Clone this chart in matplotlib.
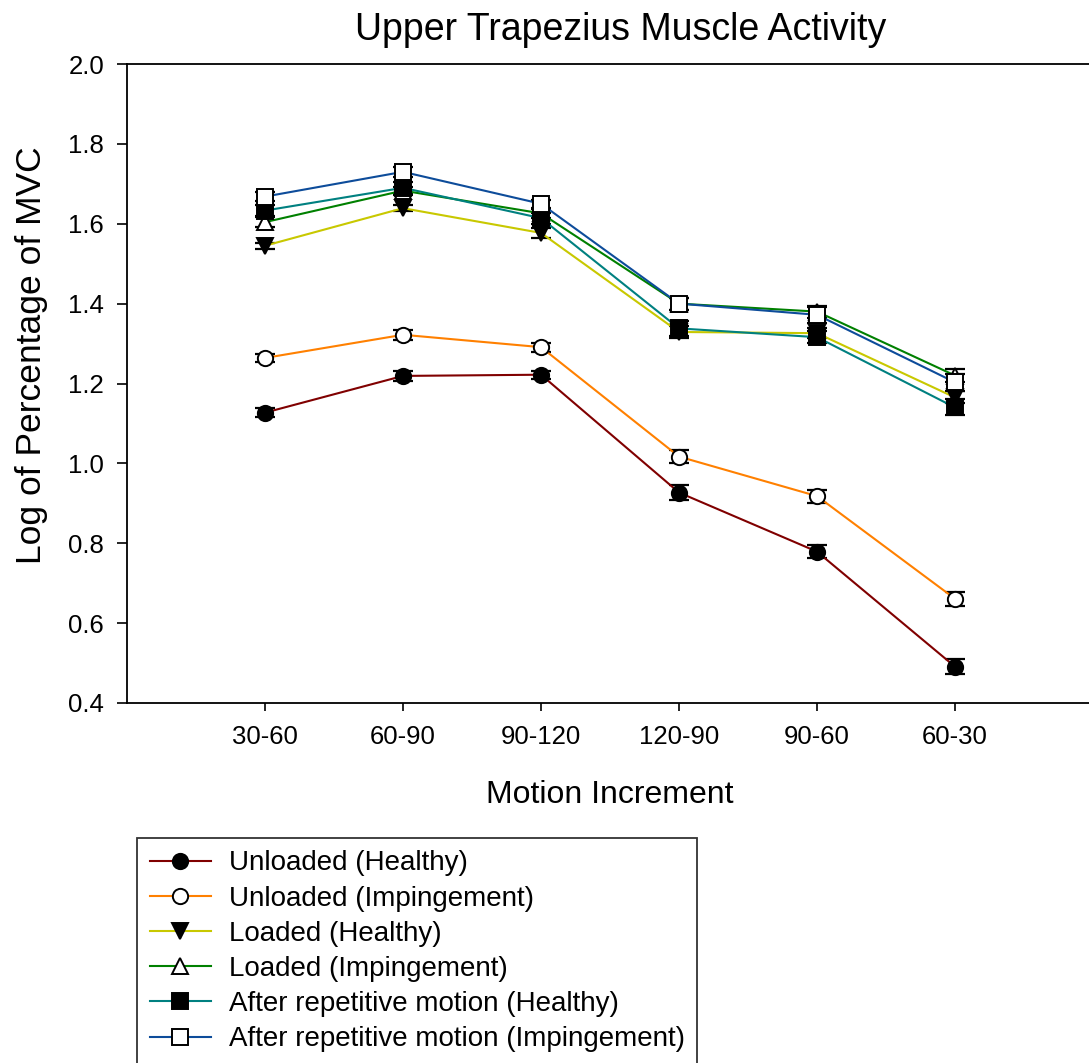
import matplotlib
matplotlib.use("Agg")
import matplotlib.pyplot as plt

plt.rcParams["font.family"] = ["Liberation Sans", "DejaVu Sans"]

increments = ["30-60", "60-90", "90-120", "120-90", "90-60", "60-30"]

unloaded_healthy = [1.127, 1.219, 1.222, 0.927, 0.779, 0.491]
unloaded_healthy_err = [0.012, 0.013, 0.010, 0.018, 0.016, 0.018]
unloaded_imping = [1.264, 1.322, 1.291, 1.017, 0.918, 0.661]
unloaded_imping_err = [0.010, 0.012, 0.011, 0.017, 0.016, 0.017]
loaded_healthy = [1.545, 1.639, 1.577, 1.329, 1.326, 1.165]
loaded_healthy_err = [0.008, 0.008, 0.012, 0.015, 0.012, 0.015]
loaded_imping = [1.604, 1.683, 1.626, 1.400, 1.380, 1.220]
loaded_imping_err = [0.012, 0.010, 0.012, 0.015, 0.015, 0.017]
repet_healthy = [1.633, 1.690, 1.614, 1.338, 1.316, 1.140]
repet_healthy_err = [0.014, 0.014, 0.014, 0.018, 0.015, 0.020]
repet_imping = [1.668, 1.730, 1.650, 1.400, 1.372, 1.203]
repet_imping_err = [0.012, 0.012, 0.010, 0.015, 0.020, 0.022]

series = [
    ("Unloaded (Healthy)", unloaded_healthy, unloaded_healthy_err, "#800000", "o", "black"),
    ("Unloaded (Impingement)", unloaded_imping, unloaded_imping_err, "#ff8000", "o", "white"),
    ("Loaded (Healthy)", loaded_healthy, loaded_healthy_err, "#c8c800", "v", "black"),
    ("Loaded (Impingement)", loaded_imping, loaded_imping_err, "#008000", "^", "white"),
    ("After repetitive motion (Healthy)", repet_healthy, repet_healthy_err, "#008080", "s", "black"),
    ("After repetitive motion (Impingement)", repet_imping, repet_imping_err, "#0d4c9a", "s", "white"),
]

W, H = 1089, 1063
fig = plt.figure(figsize=(W / 100, H / 100), dpi=100)
ax = fig.add_axes([127 / W, (H - 703) / H, 966 / W, 639 / H])

x = list(range(1, len(increments) + 1))
for label, vals, err, color, marker, face in series:
    ax.errorbar(x, vals, yerr=err, fmt="none", ecolor="black",
                elinewidth=1.3, capsize=7.5, capthick=1.6, zorder=3)
    ax.plot(x, vals, "-", color=color, lw=1.5, marker=marker, ms=11,
            mfc=face, mec="black", mew=1.4, label=label, zorder=4)

ax.set_xlim(0, 7)
ax.set_ylim(0.4, 2.0)
ax.set_xticks(x)
ax.set_xticklabels(increments)
ax.set_yticks([0.4, 0.6, 0.8, 1.0, 1.2, 1.4, 1.6, 1.8, 2.0])
ax.set_yticklabels(["0.4", "0.6", "0.8", "1.0", "1.2", "1.4", "1.6", "1.8", "2.0"])
ax.tick_params(axis="both", labelsize=18.5, width=1.2, direction="out")
ax.tick_params(axis="y", length=7.5, pad=9)
ax.tick_params(axis="x", length=6, pad=10)
ax.spines["right"].set_visible(False)
for s in ["left", "bottom", "top"]:
    ax.spines[s].set_linewidth(1.3)

# the title sits a little right of the plot centre
ax.set_title("Upper Trapezius Muscle Activity", fontsize=27, pad=17, x=0.511)
ax.set_xlabel("Motion Increment", fontsize=23, labelpad=22)
ax.set_ylabel("Log of Percentage of MVC", fontsize=25.5, labelpad=12)
ax.yaxis.set_label_coords(-0.082, 0.545)

leg = fig.legend(loc="upper left", bbox_to_anchor=(137 / W, 1 - 838 / H),
                 fontsize=20, frameon=True, fancybox=False, edgecolor="black",
                 handlelength=2.2, handletextpad=0.65, labelspacing=0.33,
                 borderpad=0.45, borderaxespad=0)
leg.get_frame().set_linewidth(1.3)

plt.savefig("out.png", dpi=100)
